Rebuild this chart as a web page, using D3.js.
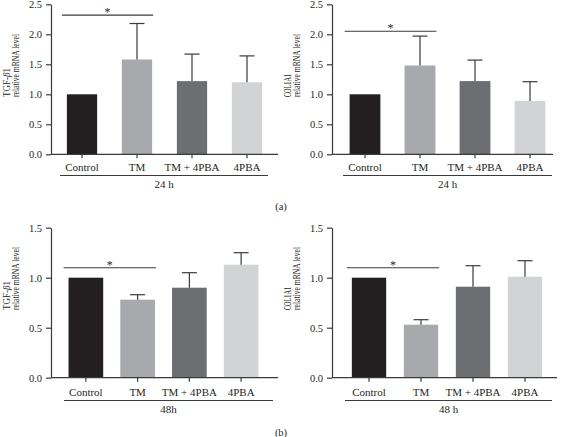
<!DOCTYPE html>
<html>
<head>
<meta charset="utf-8">
<script src="https://cdn.jsdelivr.net/npm/d3@7"></script>
<style>
html,body{margin:0;padding:0;background:#fff;}
svg{display:block;}
text{font-family:"Liberation Serif","DejaVu Serif",serif;fill:#231f20;}
</style>
</head>
<body>
<svg id="chart" width="562" height="437"></svg>
<script>
// ---- data ----
const categories = ["Control", "TM", "TM + 4PBA", "4PBA"];
const colors = ["#231f20", "#a7a9ac", "#6d6e71", "#d1d3d4"];

const tgf24Values = [1.00, 1.58, 1.22, 1.20];
const tgf24Errors = [0.00, 0.60, 0.45, 0.44];
const col24Values = [1.00, 1.48, 1.22, 0.89];
const col24Errors = [0.00, 0.49, 0.35, 0.32];
const tgf48Values = [1.00, 0.78, 0.90, 1.13];
const tgf48Errors = [0.00, 0.05, 0.15, 0.12];
const col48Values = [1.00, 0.53, 0.91, 1.01];
const col48Errors = [0.00, 0.05, 0.21, 0.16];

const ticks24 = [0, 0.5, 1.0, 1.5, 2.0, 2.5];
const ticks48 = [0, 0.5, 1.0, 1.5];
const sigLevel = [2.32, 2.05, 1.10, 1.10];   // height of significance bracket (data units)
const timeLabels = ["24 h", "24 h", "48h", "48 h"];
const geneLabels = ["TGF-", "COL1A1"];
const panelLabels = ["(a)", "(b)"];

// ---- layout ----
const panels = [
  {vals: tgf24Values, errs: tgf24Errors, ticks: ticks24, yMax: 2.5, gene: "TGF", time: timeLabels[0], sig: sigLevel[0],
   axisX: 51, axisEnd: 278, y0: 154.3, yTop: 4.3, band: [54.5, 274.5], pad: 0.45, under: [60, 268], labelY: 171, timeY: 188, yLabStart: 97},
  {vals: col24Values, errs: col24Errors, ticks: ticks24, yMax: 2.5, gene: "COL", time: timeLabels[1], sig: sigLevel[1],
   axisX: 332, axisEnd: 553, y0: 154.3, yTop: 4.3, band: [337.5, 557.5], pad: 0.44, under: [343, 552], labelY: 171, timeY: 188, yLabStart: 97},
  {vals: tgf48Values, errs: tgf48Errors, ticks: ticks48, yMax: 1.5, gene: "TGF", time: timeLabels[2], sig: sigLevel[2],
   axisX: 51, axisEnd: 278, y0: 377.7, yTop: 227.7, band: [60, 267], pad: 0.33, under: [64, 273], labelY: 396, timeY: 413, yLabStart: 310},
  {vals: col48Values, errs: col48Errors, ticks: ticks48, yMax: 1.5, gene: "COL", time: timeLabels[3], sig: sigLevel[3],
   axisX: 332, axisEnd: 557, y0: 377.7, yTop: 227.7, band: [343, 551], pad: 0.34, under: [345, 552], labelY: 396, timeY: 413, yLabStart: 310}
];

const svg = d3.select("#chart");
const ink = "#3a3a3a";

panels.forEach(p => {
  const g = svg.append("g");
  const y = d3.scaleLinear().domain([0, p.yMax]).range([p.y0, p.yTop]);
  const x = d3.scaleBand().domain(categories).range(p.band)
    .paddingInner(p.pad).paddingOuter(p.pad / 2);

  // bars
  g.selectAll("rect.bar").data(categories).enter().append("rect")
    .attr("x", d => x(d))
    .attr("width", x.bandwidth())
    .attr("y", (d, i) => y(p.vals[i]))
    .attr("height", (d, i) => y(0) - y(p.vals[i]))
    .attr("fill", (d, i) => colors[i]);

  // error bars (upper only)
  categories.forEach((c, i) => {
    if (p.errs[i] <= 0) return;
    const cx = x(c) + x.bandwidth() / 2;
    const top = y(p.vals[i] + p.errs[i]);
    g.append("line").attr("x1", cx).attr("x2", cx)
      .attr("y1", y(p.vals[i])).attr("y2", top)
      .attr("stroke", ink).attr("stroke-width", 1.2);
    g.append("line").attr("x1", cx - 7.5).attr("x2", cx + 7.5)
      .attr("y1", top).attr("y2", top)
      .attr("stroke", ink).attr("stroke-width", 1.2);
  });

  // y axis
  const yAxis = d3.axisLeft(y).tickValues(p.ticks).tickFormat(d3.format(".1f"))
    .tickSize(5).tickPadding(4).tickSizeOuter(0);
  const ya = g.append("g").attr("transform", `translate(${p.axisX},0)`).call(yAxis);
  ya.select(".domain").attr("stroke", ink).attr("stroke-width", 1.2);
  ya.selectAll(".tick line").attr("stroke", ink).attr("stroke-width", 1.2);
  ya.selectAll(".tick text").style("font-size", "10.5px").attr("fill", "#231f20")
    .style("font-family", "'Liberation Serif', serif");

  // x axis
  const xa = g.append("g").attr("transform", `translate(0,${p.y0})`);
  xa.append("line").attr("x1", p.axisX).attr("x2", p.axisEnd).attr("y1", 0).attr("y2", 0)
    .attr("stroke", ink).attr("stroke-width", 1.2);
  categories.forEach(c => {
    const cx = x(c) + x.bandwidth() / 2;
    xa.append("line").attr("x1", cx).attr("x2", cx).attr("y1", 0).attr("y2", 4)
      .attr("stroke", ink).attr("stroke-width", 1.2);
    g.append("text").attr("x", cx).attr("y", p.labelY).attr("text-anchor", "middle")
      .style("font-size", "11px").text(c);
  });

  // underline + time label
  g.append("line").attr("x1", p.under[0]).attr("x2", p.under[1])
    .attr("y1", p.labelY + 4.5).attr("y2", p.labelY + 4.5)
    .attr("stroke", ink).attr("stroke-width", 1.1);
  g.append("text").attr("x", (p.under[0] + p.under[1]) / 2).attr("y", p.timeY)
    .attr("text-anchor", "middle").style("font-size", "11px").text(p.time);

  // significance bracket
  const sx1 = x(categories[0]) - 5;
  const sx2 = x(categories[1]) + x.bandwidth() + 1;
  const sy = y(p.sig);
  g.append("line").attr("x1", sx1).attr("x2", sx2).attr("y1", sy).attr("y2", sy)
    .attr("stroke", ink).attr("stroke-width", 1.1);
  g.append("text").attr("x", (sx1 + sx2) / 2).attr("y", sy + 1)
    .attr("text-anchor", "middle").style("font-size", "12px").text("*");

  // y label
  const lx = p.axisX - 41;
  const t1 = g.append("text")
    .attr("transform", `translate(${lx},${p.yLabStart}) rotate(-90)`)
    .attr("text-anchor", "start").style("font-size", "10px");
  if (p.gene === "TGF") {
    t1.attr("textLength", 29).attr("lengthAdjust", "spacingAndGlyphs");
    t1.append("tspan").text(geneLabels[0]);
    t1.append("tspan").style("font-style", "italic").text("β");
    t1.append("tspan").text("1");
  } else {
    t1.attr("textLength", 23).attr("lengthAdjust", "spacingAndGlyphs").text(geneLabels[1]);
  }
  g.append("text")
    .attr("transform", `translate(${lx + 9},${p.yLabStart}) rotate(-90)`)
    .attr("text-anchor", "start").style("font-size", "10px")
    .attr("textLength", 63).attr("lengthAdjust", "spacingAndGlyphs")
    .text("relative mRNA level");
});

// panel letters
svg.append("text").attr("x", 281).attr("y", 210).attr("text-anchor", "middle")
  .style("font-size", "10.5px").text(panelLabels[0]);
svg.append("text").attr("x", 281).attr("y", 436).attr("text-anchor", "middle")
  .style("font-size", "10.5px").text(panelLabels[1]);
</script>
</body>
</html>
